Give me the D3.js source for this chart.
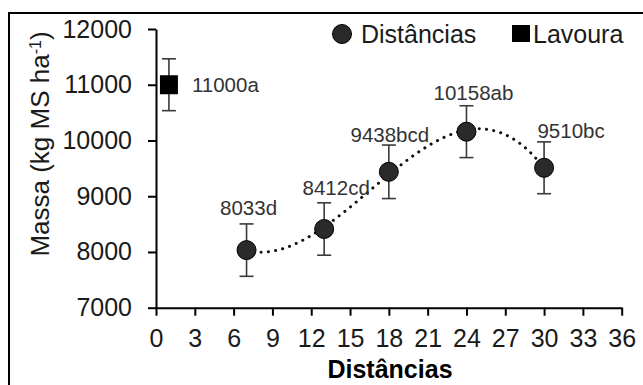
<!DOCTYPE html>
<html>
<head>
<meta charset="utf-8">
<script src="https://cdn.jsdelivr.net/npm/d3@7"></script>
<style>
  body { margin: 0; background: #fff; }
  svg { display: block; font-family: "Liberation Sans", Arial, sans-serif; }
</style>
</head>
<body>
<div id="chart"></div>
<script>
// data
const distances = [7, 13, 18, 24, 30];
const massValues = [8033, 8412, 9438, 10158, 9510];
const massErrors = [470, 470, 480, 465, 465];
const massLetters = ['d', 'cd', 'bcd', 'ab', 'bc'];

const lavouraX = [1];
const lavouraValues = [11000];
const lavouraErrors = [465];
const lavouraLetters = ['a'];

const xTicks = [0, 3, 6, 9, 12, 15, 18, 21, 24, 27, 30, 33, 36];
const yTicks = [7000, 8000, 9000, 10000, 11000, 12000];

// label offsets (layout only)
const labelOffsets = [[2, -35], [12, -34], [1, -30], [7, -32], [27, -30]];

const W = 643, H = 385;
const svg = d3.select('#chart').append('svg')
  .attr('width', W).attr('height', H);

// outer frame
svg.append('rect')
  .attr('x', 9).attr('y', 13)
  .attr('width', 700).attr('height', 400)
  .attr('fill', 'none').attr('stroke', '#000').attr('stroke-width', 2);

const x = d3.scaleLinear().domain([0, 36]).range([156, 621.7]);
const y = d3.scaleLinear().domain([7000, 12000]).range([307.7, 29]);

// axes
const xAxis = svg.append('g')
  .attr('transform', `translate(0,${y(7000)})`)
  .call(d3.axisBottom(x).tickValues(xTicks).tickSize(8).tickPadding(14).tickSizeOuter(0));
const yAxis = svg.append('g')
  .attr('transform', `translate(${x(0)},0)`)
  .call(d3.axisLeft(y).tickValues(yTicks).tickSize(8).tickPadding(16).tickSizeOuter(0).tickFormat(d3.format('d')));

[xAxis, yAxis].forEach(g => {
  g.select('.domain').attr('stroke', '#000').attr('stroke-width', 2);
  g.selectAll('.tick line').attr('stroke', '#000').attr('stroke-width', 2);
  g.selectAll('.tick text')
    .attr('fill', '#1a1a1a')
    .style('font-size', '25px')
    .style('font-family', '"Liberation Sans", Arial, sans-serif');
});

// axis titles
svg.append('text')
  .attr('x', 390).attr('y', 378)
  .attr('text-anchor', 'middle')
  .style('font-size', '25px').style('font-weight', 'bold')
  .attr('fill', '#000')
  .text('Distâncias');

const yTitle = svg.append('text')
  .attr('transform', 'translate(49,144) rotate(-90)')
  .attr('text-anchor', 'middle')
  .style('font-size', '26px')
  .attr('fill', '#1a1a1a');
yTitle.append('tspan').text('Massa (kg MS ha');
yTitle.append('tspan').attr('baseline-shift', 'super').style('font-size', '16px').text('-1');
yTitle.append('tspan').text(')');

// cubic trendline, least squares fit of the Distâncias series
function polyFit(xs, ys, order) {
  const n = order + 1;
  const A = Array.from({length: n}, () => new Array(n + 1).fill(0));
  for (let r = 0; r < n; r++) {
    for (let c = 0; c < n; c++) A[r][c] = d3.sum(xs, v => Math.pow(v, r + c));
    A[r][n] = d3.sum(xs, (v, i) => ys[i] * Math.pow(v, r));
  }
  for (let i = 0; i < n; i++) {
    let p = i;
    for (let k = i + 1; k < n; k++) if (Math.abs(A[k][i]) > Math.abs(A[p][i])) p = k;
    [A[i], A[p]] = [A[p], A[i]];
    for (let k = 0; k < n; k++) {
      if (k === i) continue;
      const f = A[k][i] / A[i][i];
      for (let c = i; c <= n; c++) A[k][c] -= f * A[i][c];
    }
  }
  return A.map((row, i) => row[n] / row[i]);
}
const coef = polyFit(distances, massValues, 3);
const fitAt = v => coef.reduce((s, c, i) => s + c * Math.pow(v, i), 0);
const xs = d3.range(d3.min(distances), d3.max(distances) + 0.001, 0.25);
svg.append('path')
  .datum(xs)
  .attr('fill', 'none')
  .attr('stroke', '#111')
  .attr('stroke-width', 3)
  .attr('stroke-linecap', 'round')
  .attr('stroke-dasharray', '0.1 7.2')
  .attr('d', d3.line().x(v => x(v)).y(v => y(fitAt(v))));

// error bars
function errorBars(xv, vals, errs) {
  const g = svg.append('g').attr('stroke', '#3a3a3a').attr('stroke-width', 1.6);
  vals.forEach((v, i) => {
    const cx = x(xv[i]);
    g.append('line').attr('x1', cx).attr('x2', cx).attr('y1', y(v + errs[i])).attr('y2', y(v - errs[i]));
    g.append('line').attr('x1', cx - 7).attr('x2', cx + 7).attr('y1', y(v + errs[i])).attr('y2', y(v + errs[i]));
    g.append('line').attr('x1', cx - 7).attr('x2', cx + 7).attr('y1', y(v - errs[i])).attr('y2', y(v - errs[i]));
  });
}
errorBars(distances, massValues, massErrors);
errorBars(lavouraX, lavouraValues, lavouraErrors);

// markers
svg.append('g').selectAll('circle')
  .data(massValues)
  .join('circle')
  .attr('cx', (d, i) => x(distances[i]))
  .attr('cy', d => y(d))
  .attr('r', 9.5)
  .attr('fill', '#2a2a2a')
  .attr('stroke', '#000')
  .attr('stroke-width', 1);

svg.append('g').selectAll('rect')
  .data(lavouraValues)
  .join('rect')
  .attr('x', (d, i) => x(lavouraX[i]) - 9)
  .attr('y', d => y(d) - 9.5)
  .attr('width', 18).attr('height', 19)
  .attr('fill', '#000');

// value labels
svg.append('g').selectAll('text')
  .data(massValues)
  .join('text')
  .attr('x', (d, i) => x(distances[i]) + labelOffsets[i][0])
  .attr('y', (d, i) => y(d) + labelOffsets[i][1])
  .attr('text-anchor', 'middle')
  .style('font-size', '20.5px')
  .attr('fill', '#333')
  .text((d, i) => d + massLetters[i]);

svg.append('g').selectAll('text')
  .data(lavouraValues)
  .join('text')
  .attr('x', (d, i) => x(lavouraX[i]) + 23)
  .attr('y', d => y(d) + 2)
  .attr('dominant-baseline', 'middle')
  .style('font-size', '20.5px')
  .attr('fill', '#333')
  .text((d, i) => d + lavouraLetters[i]);

// legend
const legend = svg.append('g');
legend.append('circle').attr('cx', 342).attr('cy', 34).attr('r', 9.5)
  .attr('fill', '#2a2a2a').attr('stroke', '#000').attr('stroke-width', 1);
legend.append('text').attr('x', 361).attr('y', 42.5)
  .style('font-size', '25px').attr('fill', '#1a1a1a').text('Distâncias');
legend.append('rect').attr('x', 512).attr('y', 25).attr('width', 18).attr('height', 17)
  .attr('fill', '#000');
legend.append('text').attr('x', 533).attr('y', 42.5)
  .style('font-size', '25px').attr('fill', '#1a1a1a').text('Lavoura');
</script>
</body>
</html>
